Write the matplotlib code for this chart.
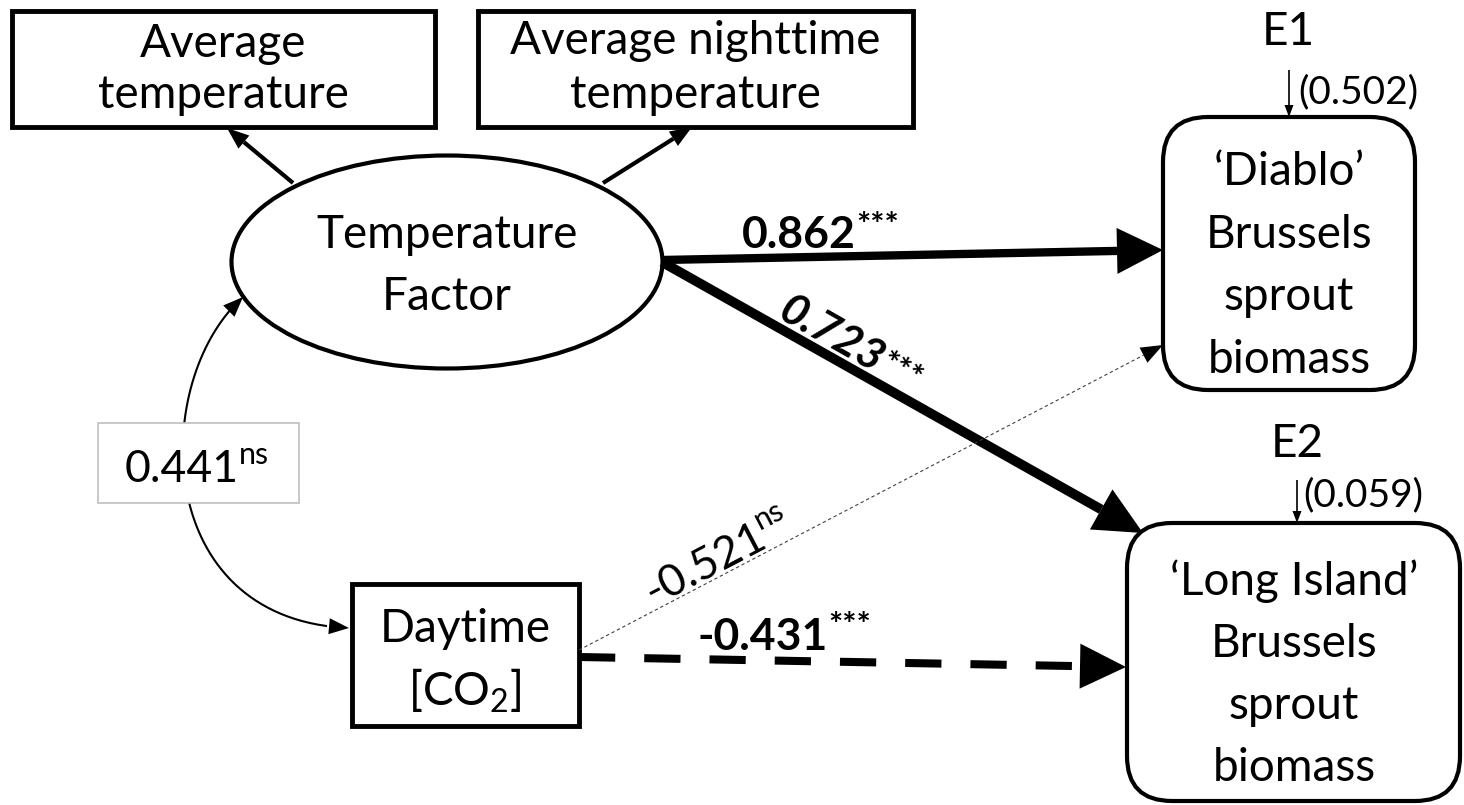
import matplotlib.pyplot as plt
from matplotlib.patches import Rectangle, Ellipse, FancyBboxPatch, Polygon
import numpy as np

# path diagram values
coef_labels = ["0.862", "0.723", "-0.521", "-0.431"]
coef_sig = ["***", "***", "ns", "***"]
cov_label = "0.441"
cov_sig = "ns"
error_names = ["E1", "E2"]
error_values = ["(0.502)", "(0.059)"]

box_a_lines = ["Average", "temperature"]
box_b_lines = ["Average nighttime", "temperature"]
factor_lines = ["Temperature", "Factor"]
co2_lines = ["Daytime", "[CO$_2$]"]
diablo_lines = ["\u2018Diablo\u2019", "Brussels", "sprout", "biomass"]
longisland_lines = ["\u2018Long Island\u2019", "Brussels", "sprout", "biomass"]

plt.rcParams['font.family'] = ['Lato', 'DejaVu Sans']
plt.rcParams['mathtext.fontset'] = 'custom'
plt.rcParams['mathtext.rm'] = 'Lato'
plt.rcParams['mathtext.default'] = 'regular'

fig = plt.figure(figsize=(14.64, 8.05), dpi=100)
ax = fig.add_axes([0, 0, 1, 1])
ax.set_xlim(0, 1464)
ax.set_ylim(805, 0)
ax.axis('off')
renderer = fig.canvas.get_renderer()

FS = 33


def head(tip, frm, length, width, z=5):
    tip = np.asarray(tip, float)
    frm = np.asarray(frm, float)
    d = (tip - frm) / np.hypot(*(tip - frm))
    base = tip - d * length
    p = np.array([-d[1], d[0]])
    ax.add_patch(Polygon([tip, base + p * width / 2, base - p * width / 2],
                         closed=True, fc='black', ec='none', zorder=z))
    return base


def arrow(p0, p1, lw, hl, hw, color='black', **kw):
    base = head(p1, p0, hl, hw)
    ax.plot([p0[0], base[0]], [p0[1], base[1]], color=color, lw=lw,
            solid_capstyle='butt', zorder=4, **kw)


def lines(cx, baselines, texts, size=FS):
    for y, s in zip(baselines, texts):
        ax.text(cx, y, s, ha='center', va='baseline', fontsize=size, zorder=6)


def sup_label(x, y, main, sup, angle, raise_px, size=32, supsize=24, **kw):
    ax.text(x, y, main, rotation=angle, rotation_mode='anchor', ha='left',
            va='baseline', fontsize=size, zorder=6, **kw)
    tmp = ax.text(0, 0, main, fontsize=size, **kw)
    w = tmp.get_window_extent(renderer).width
    tmp.remove()
    a = np.radians(angle)
    sx = x + w * np.cos(a) - raise_px * np.sin(a)
    sy = y - w * np.sin(a) - raise_px * np.cos(a)
    ax.text(sx, sy, sup, rotation=angle, rotation_mode='anchor', ha='left',
            va='baseline', fontsize=supsize, zorder=6,
            fontweight=kw.get('fontweight', 'normal'))


# observed boxes
ax.add_patch(Rectangle((12, 11), 423, 116, fc='white', ec='black', lw=3.5, zorder=3))
lines(223, [57, 108], box_a_lines)
ax.add_patch(Rectangle((478, 11), 435, 116, fc='white', ec='black', lw=3.5, zorder=3))
lines(695, [54, 108], box_b_lines)

# latent factor
ax.add_patch(Ellipse((447, 262), 431, 213, fc='white', ec='black', lw=3, zorder=3))
lines(447, [248, 310], factor_lines)

# CO2 box
ax.add_patch(Rectangle((352, 584), 227, 142, fc='white', ec='black', lw=3.5, zorder=3))
lines(465, [642, 706], co2_lines)

# response boxes
ax.add_patch(FancyBboxPatch((1163, 117), 252, 273, boxstyle='round,pad=0,rounding_size=45',
                            fc='white', ec='black', lw=3, zorder=3))
lines(1289, [185, 248, 310, 373], diablo_lines)
ax.add_patch(FancyBboxPatch((1127, 523), 333, 278, boxstyle='round,pad=0,rounding_size=45',
                            fc='white', ec='black', lw=3, zorder=3))
lines(1294, [595, 657, 719, 781], longisland_lines)

# error terms
ax.text(1288, 45, error_names[0], ha='center', va='baseline', fontsize=FS)
arrow((1289, 70), (1289, 117), 1.2, 12, 9)
ax.text(1298, 92, error_values[0], ha='left', va='center', fontsize=28)
ax.text(1297, 457, error_names[1], ha='center', va='baseline', fontsize=FS)
arrow((1297, 480), (1297, 523), 1.2, 12, 9)
ax.text(1303, 495, error_values[1], ha='left', va='center', fontsize=28)

# loadings
arrow((293, 183), (227, 128), 3, 22, 17)
arrow((603, 183), (692, 127), 3, 22, 17)

# paths
arrow((662, 260), (1163, 250), 6, 46, 46)
arrow((662, 262), (1143, 533), 7, 48, 46)
arrow((579, 650), (1163, 345), 0.8, 22, 17, color='#404040', dashes=(3, 2.5))
arrow((579, 657), (1126, 667), 5.8, 46, 45, dashes=(4.5, 3.6))

# covariance curve
P = np.array([[243, 297], [150, 380], [150, 620], [349, 628]], float)
t = np.linspace(0, 1, 200)[:, None]
curve = ((1 - t) ** 3 * P[0] + 3 * (1 - t) ** 2 * t * P[1]
         + 3 * (1 - t) * t ** 2 * P[2] + t ** 3 * P[3])
ax.plot(curve[8:-8, 0], curve[8:-8, 1], color='black', lw=1.5, zorder=2)
head(P[0], curve[8], 20, 16)
head(P[3], curve[-9], 20, 16)
ax.add_patch(Rectangle((98, 423), 201, 80, fc='white', ec='#bfbfbf', lw=1.2, zorder=3))
sup_label(125, 482, cov_label, cov_sig, 0, 18, size=32, supsize=22)

# coefficient labels
sup_label(742, 248, coef_labels[0], coef_sig[0], 0, 12, fontweight='bold')
sup_label(776, 318, coef_labels[1], coef_sig[1], -29.6, 6, fontweight='bold',
          fontstyle='italic')
sup_label(653, 606, coef_labels[2], coef_sig[2], 27.6, 18, supsize=22)
sup_label(698, 650, coef_labels[3], coef_sig[3], 0, 14, fontweight='bold')

fig.savefig('out.png', dpi=100)
